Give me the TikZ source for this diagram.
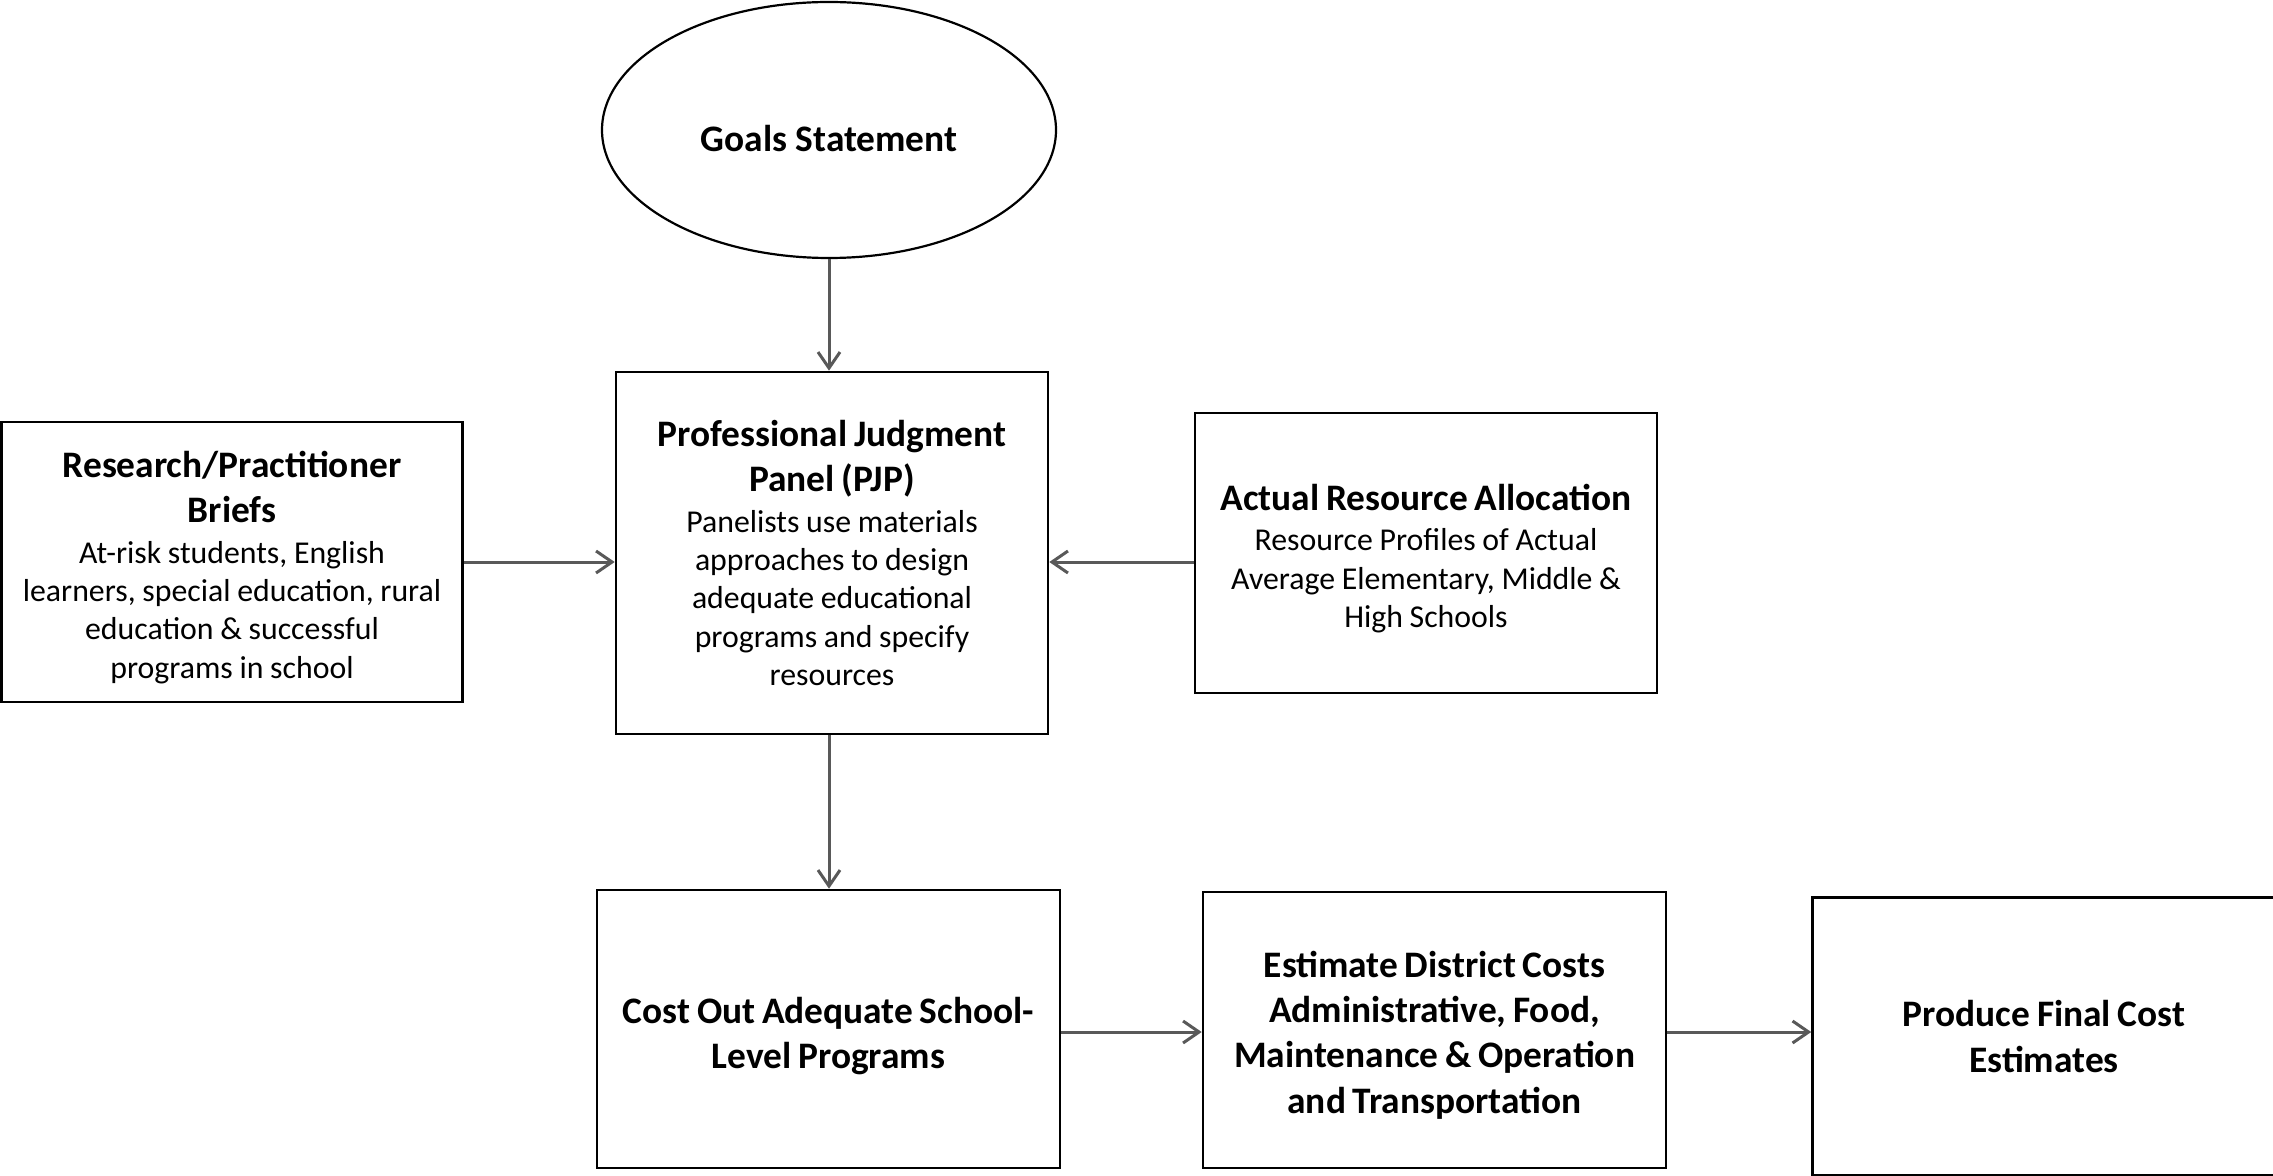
\documentclass[tikz,border=0pt]{standalone}
\usepackage{fontspec}
\setmainfont{Carlito}
\usetikzlibrary{arrows.meta,shapes.geometric}

\tikzset{
    stagebox/.style={draw=black, line width=1.3pt, rectangle, inner sep=0pt, align=center,
        minimum width=231.5pt, minimum height=139pt, text width=226pt},
    goalshape/.style={draw=black, line width=1.1pt, ellipse, inner sep=0pt,
        minimum width=227pt, minimum height=128pt, text height=21.5pt, text depth=0pt,
        font=\fontsize{18.7}{22.8}\selectfont\bfseries},
    flow/.style={draw=black!65, line width=1.5pt, -{Straight Barb[length=8pt,width=11pt,line width=1.5pt]}},
}
\newcommand{\boxtitle}{\fontsize{18.7}{22.6}\selectfont\bfseries}
\newcommand{\boxbody}{\fontsize{15.9}{19.2}\selectfont}
\newcommand{\toppad}[1]{\rule{0pt}{#1}}

\begin{document}
\begin{tikzpicture}[x=0.5pt, y=-0.5pt]

    % Page frame (pixel coordinates of the reference)
    \def\pagew{2273}
    \def\pageh{1176}
    \useasboundingbox (0,0) rectangle (\pagew,\pageh);
    \clip (0,0) rectangle (\pagew,\pageh);

    % Goals
    \node[goalshape] (goals) at (829,130) {Goals Statement};

    % Middle row
    \node[stagebox, minimum width=216pt, minimum height=181pt, text width=212pt] (pjp) at (832,553)
        {{\boxtitle Professional Judgment\\ Panel (PJP)\par}\vspace{1pt}
         {\boxbody Panelists use materials\\ approaches to design\\
          adequate educational\\ programs and specify\\ resources\par}};
    \node[stagebox, minimum width=230.5pt, minimum height=140pt] (briefs) at (232,562)
        {{\boxtitle \toppad{18.6pt}Research/Practitioner\\ Briefs\par}\vspace{1pt}
         {\boxbody At-risk students, English\\ learners, special education, rural\\
          education \& successful\\ programs in school\par}};
    \node[stagebox, minimum width=231pt, minimum height=140pt] (actual) at (1426,553)
        {{\boxtitle \toppad{18.6pt}Actual Resource Allocation\par}\vspace{1pt}
         {\boxbody Resource Profiles of Actual\\ Average Elementary, Middle \&\\
          High Schools\par}};

    % Bottom row
    \node[stagebox] (costout) at (828.5,1029)
        {{\boxtitle \toppad{20.4pt}Cost Out Adequate School-\\ Level Programs\par}};
    \node[stagebox, minimum height=138pt] (district) at (1434.5,1030)
        {{\boxtitle \toppad{18.2pt}Estimate District Costs\\ Administrative, Food,\\
          Maintenance \& Operation\\ and Transportation\par}};
    \node[stagebox] (final) at (2044,1036.5)
        {{\boxtitle Produce Final Cost\\ Estimates\par}};

    % Connectors
    \draw[flow] (goals.south) -- (goals.south |- pjp.north);
    \draw[flow] (briefs.east) -- (briefs.east -| pjp.west);
    \draw[flow] (actual.west |- briefs.east) -- (pjp.east |- briefs.east);
    \draw[flow] (pjp.south -| goals.south) -- (goals.south |- costout.north);
    \draw[flow] ([yshift=-1.5pt]costout.east) -- ([yshift=-1.5pt]costout.east -| district.west);
    \draw[flow] ([yshift=-1pt]district.east) -- ([yshift=-1pt]district.east -| final.west);

\end{tikzpicture}
\end{document}
